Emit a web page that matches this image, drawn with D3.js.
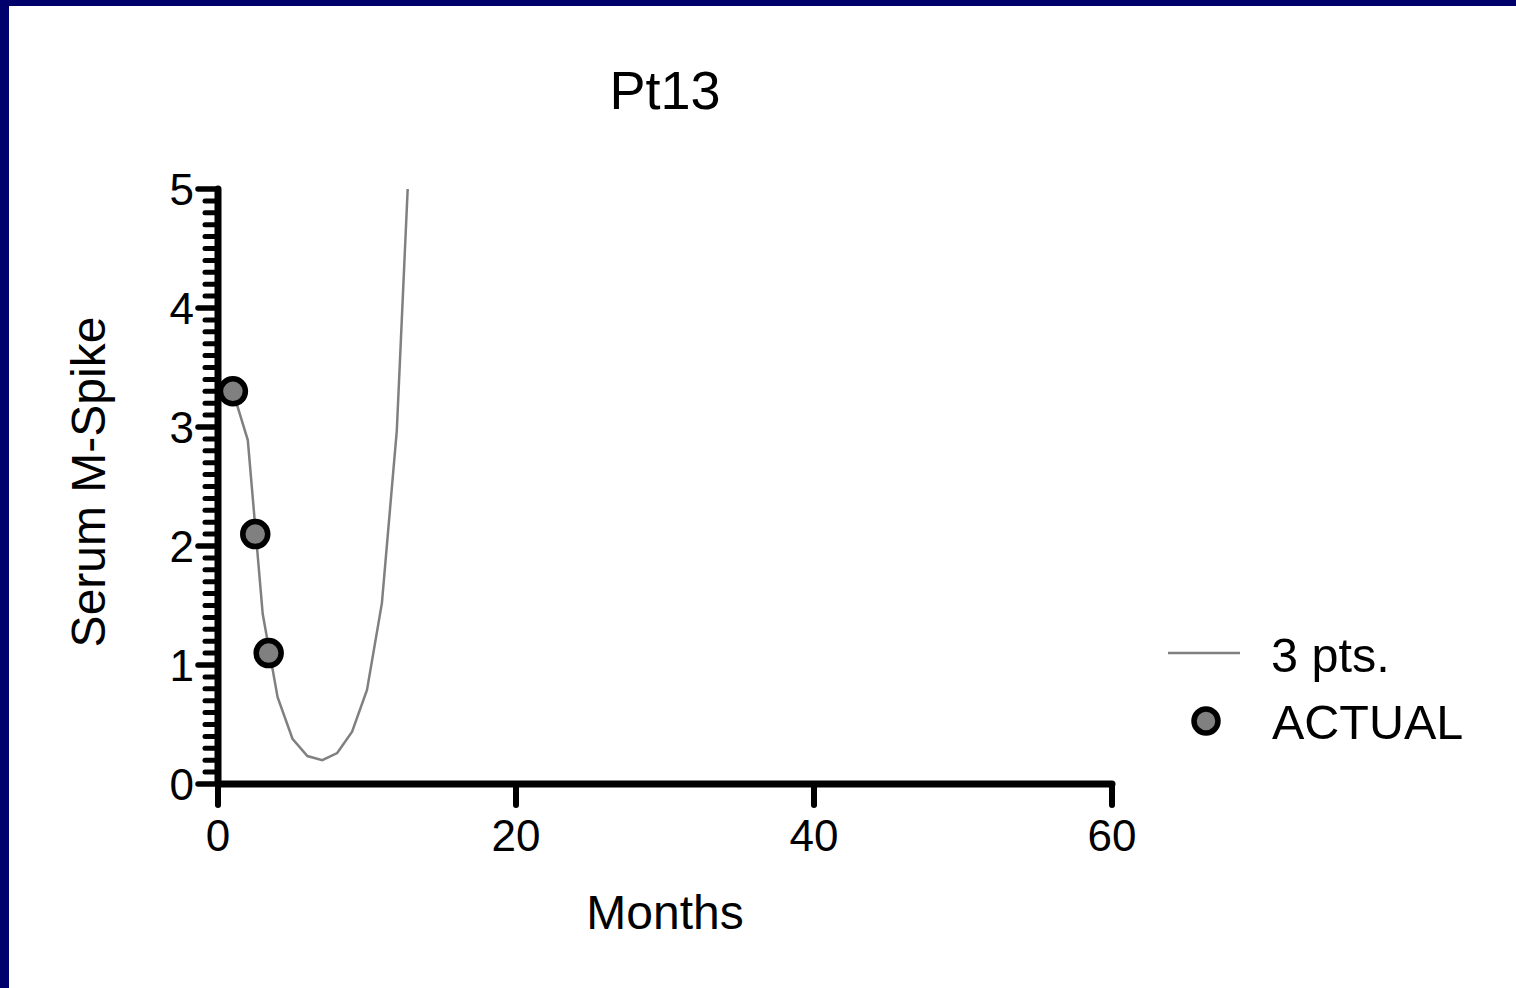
<!DOCTYPE html>
<html lang="en">
<head>
    <meta charset="UTF-8">
    <title>Pt13</title>
    <script src="https://cdn.jsdelivr.net/npm/d3@7"></script>
    <style>
        body { margin: 0; background: #fff; }
        svg { display: block; font-family: "Liberation Sans", Arial, sans-serif; }
        .tick-label { font-size: 44px; fill: #000; }
        .axis-title { font-size: 48px; fill: #000; }
        .legend-text { font-size: 48.5px; fill: #000; }
    </style>
</head>
<body>
    <svg width="1516" height="988" id="chart"></svg>
    <script>
        // fitted curve (3 pts.)
        const fitMonths = [1, 2, 3, 4, 5, 6, 7, 8, 9, 10, 11, 12, 13];
        const fitValues = [3.30, 2.89, 1.43, 0.73, 0.38, 0.235, 0.20, 0.26, 0.44, 0.79, 1.52, 2.97, 5.75];

        // measured serum M-spike
        const actualMonths = [1.0, 2.5, 3.4];
        const actualValues = [3.30, 2.10, 1.10];

        const xTicks = [0, 20, 40, 60];
        const yTicks = [0, 1, 2, 3, 4, 5];
        const yMinorTicks = d3.range(0, 50).map(i => i / 10).filter(v => v % 1 !== 0);

        const svg = d3.select("#chart");

        // slide frame
        svg.append("rect").attr("x", 0).attr("y", 0).attr("width", 1516).attr("height", 6).attr("fill", "#00006c");
        svg.append("rect").attr("x", 0).attr("y", 0).attr("width", 9).attr("height", 988).attr("fill", "#00006c");

        const x = d3.scaleLinear().domain([0, 60]).range([218, 1112]);
        const y = d3.scaleLinear().domain([0, 5]).range([784, 189]);

        svg.append("defs").append("clipPath").attr("id", "plot")
            .append("rect").attr("x", 218).attr("y", y(5)).attr("width", 894).attr("height", y(0) - y(5));

        // fitted line
        const fit = fitMonths.map((m, i) => [m, fitValues[i]]);
        svg.append("path")
            .attr("clip-path", "url(#plot)")
            .attr("d", d3.line().x(d => x(d[0])).y(d => y(d[1]))(fit))
            .attr("fill", "none")
            .attr("stroke", "#808080")
            .attr("stroke-width", 2.5);

        // y axis
        const yAxis = svg.append("g");
        yAxis.selectAll(".minor").data(yMinorTicks).enter().append("line")
            .attr("x1", 218).attr("x2", 205)
            .attr("y1", d => y(d)).attr("y2", d => y(d))
            .attr("stroke", "#000").attr("stroke-width", 5).attr("stroke-linecap", "round");
        yAxis.selectAll(".major").data(yTicks).enter().append("line")
            .attr("x1", 218).attr("x2", 198)
            .attr("y1", d => y(d)).attr("y2", d => y(d))
            .attr("stroke", "#000").attr("stroke-width", 5.5).attr("stroke-linecap", "round");
        yAxis.selectAll("text").data(yTicks).enter().append("text")
            .attr("class", "tick-label")
            .attr("x", 194).attr("y", d => y(d) + 16)
            .attr("text-anchor", "end")
            .text(d => d);
        yAxis.append("line")
            .attr("x1", 218).attr("x2", 218).attr("y1", y(5)).attr("y2", y(0))
            .attr("stroke", "#000").attr("stroke-width", 7).attr("stroke-linecap", "round");

        // x axis
        const xAxis = svg.append("g");
        xAxis.selectAll("line").data(xTicks).enter().append("line")
            .attr("x1", d => x(d)).attr("x2", d => x(d))
            .attr("y1", 784).attr("y2", 805)
            .attr("stroke", "#000").attr("stroke-width", 6).attr("stroke-linecap", "round");
        xAxis.append("line")
            .attr("x1", x(0)).attr("x2", x(60)).attr("y1", 784).attr("y2", 784)
            .attr("stroke", "#000").attr("stroke-width", 7).attr("stroke-linecap", "round");
        xAxis.selectAll("text").data(xTicks).enter().append("text")
            .attr("class", "tick-label")
            .attr("x", d => x(d)).attr("y", 851)
            .attr("text-anchor", "middle")
            .text(d => d);

        // actual points
        const actual = actualMonths.map((m, i) => [m, actualValues[i]]);
        svg.selectAll(".pt").data(actual).enter().append("circle")
            .attr("cx", d => x(d[0])).attr("cy", d => y(d[1]))
            .attr("r", 12.5)
            .attr("fill", "#808080").attr("stroke", "#000").attr("stroke-width", 5.5);

        // titles
        svg.append("text").attr("class", "axis-title")
            .attr("x", 665).attr("y", 109).attr("text-anchor", "middle")
            .style("font-size", "54px").text("Pt13");
        svg.append("text").attr("class", "axis-title")
            .attr("x", 665).attr("y", 929).attr("text-anchor", "middle")
            .text("Months");
        svg.append("text").attr("class", "axis-title")
            .attr("transform", "translate(105,482) rotate(-90)")
            .attr("text-anchor", "middle")
            .text("Serum M-Spike");

        // legend
        const legend = svg.append("g");
        legend.append("line")
            .attr("x1", 1168).attr("x2", 1240).attr("y1", 653).attr("y2", 653)
            .attr("stroke", "#808080").attr("stroke-width", 2.5);
        legend.append("text").attr("class", "legend-text")
            .attr("x", 1271).attr("y", 672).text("3 pts.");
        legend.append("circle")
            .attr("cx", 1206).attr("cy", 721).attr("r", 12)
            .attr("fill", "#808080").attr("stroke", "#000").attr("stroke-width", 5.5);
        legend.append("text").attr("class", "legend-text")
            .attr("x", 1272).attr("y", 739).text("ACTUAL");
    </script>
</body>
</html>
